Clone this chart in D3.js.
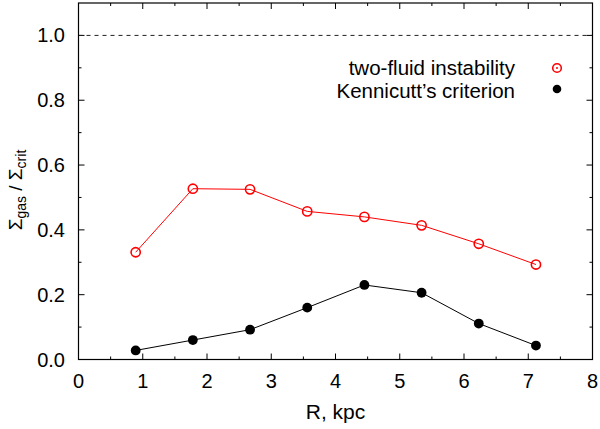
<!DOCTYPE html>
<html><head><meta charset="utf-8">
<script src="https://cdn.jsdelivr.net/npm/d3@7"></script>
<style>
html,body{margin:0;padding:0;background:#fff;}
text{font-family:"Liberation Sans",Arial,Helvetica,sans-serif;fill:#000;}
</style></head>
<body>
<svg id="chart" width="600" height="429"></svg>
<script>
const radius = [0.89, 1.78, 2.67, 3.56, 4.45, 5.34, 6.23, 7.12];
const twoFluid = [0.331, 0.527, 0.525, 0.457, 0.440, 0.414, 0.357, 0.293];
const kennicutt = [0.028, 0.060, 0.092, 0.160, 0.230, 0.206, 0.111, 0.043];
const xTicks = [0, 1, 2, 3, 4, 5, 6, 7, 8];
const yTicks = [0.0, 0.2, 0.4, 0.6, 0.8, 1.0];
const seriesNames = ["two-fluid instability", "Kennicutt\u2019s criterion"];
const threshold = 1.0;

const svg = d3.select("#chart");
const L = 78.5, R = 592.5, T = 3, B = 359.5;
const x = d3.scaleLinear().domain([0, 8]).range([L, R]);
const y = d3.scaleLinear().domain([0, 1.1]).range([B, T]);

const g = svg.append("g");

// ticks (inward, all four sides)
const xMinor = d3.range(0.5, 8, 1);
const yMinor = d3.range(0.1, 1.1, 0.2);
const tk = g.append("g").attr("stroke", "#000").attr("stroke-width", 1);
xTicks.forEach(v => {
  tk.append("line").attr("x1", x(v)).attr("x2", x(v)).attr("y1", B).attr("y2", B - 6);
  tk.append("line").attr("x1", x(v)).attr("x2", x(v)).attr("y1", T).attr("y2", T + 6);
});
xMinor.forEach(v => {
  tk.append("line").attr("x1", x(v)).attr("x2", x(v)).attr("y1", B).attr("y2", B - 3);
  tk.append("line").attr("x1", x(v)).attr("x2", x(v)).attr("y1", T).attr("y2", T + 3);
});
yTicks.forEach(v => {
  tk.append("line").attr("y1", y(v)).attr("y2", y(v)).attr("x1", L).attr("x2", L + 6);
  tk.append("line").attr("y1", y(v)).attr("y2", y(v)).attr("x1", R).attr("x2", R - 6);
});
yMinor.forEach(v => {
  tk.append("line").attr("y1", y(v)).attr("y2", y(v)).attr("x1", L).attr("x2", L + 3);
  tk.append("line").attr("y1", y(v)).attr("y2", y(v)).attr("x1", R).attr("x2", R - 3);
});

// tick labels
g.selectAll(".xl").data(xTicks).enter().append("text")
  .attr("x", d => x(d)).attr("y", 388).attr("text-anchor", "middle")
  .attr("font-size", 20).text(d => d3.format("d")(d));
g.selectAll(".yl").data(yTicks).enter().append("text")
  .attr("x", 65).attr("y", d => y(d) + 7).attr("text-anchor", "end")
  .attr("font-size", 20).text(d => d3.format(".1f")(d));

// axis titles
g.append("text").attr("x", (L + R) / 2).attr("y", 419).attr("text-anchor", "middle")
  .attr("font-size", 21).text("R, kpc");
const yl = g.append("text").attr("transform", "translate(22,190) rotate(-90)")
  .attr("text-anchor", "middle").attr("font-size", 19);
yl.append("tspan").text("\u03A3");
yl.append("tspan").attr("font-size", 14).attr("dy", 4).text("gas");
yl.append("tspan").attr("dy", -4).text(" / \u03A3");
yl.append("tspan").attr("font-size", 14).attr("dy", 4).text("crit");

// threshold dashed line
g.append("line").attr("x1", L).attr("x2", R).attr("y1", y(threshold)).attr("y2", y(threshold))
  .attr("stroke", "#222").attr("stroke-width", 1).attr("stroke-dasharray", "4,4");

// lines
const line = d3.line().x((d, i) => x(radius[i])).y(d => y(d));
g.append("path").datum(twoFluid).attr("d", line).attr("fill", "none")
  .attr("stroke", "#ff0000").attr("stroke-width", 1);
g.append("path").datum(kennicutt).attr("d", line).attr("fill", "none")
  .attr("stroke", "#000").attr("stroke-width", 1);

// markers
g.selectAll(".rc").data(twoFluid).enter().append("circle")
  .attr("cx", (d, i) => x(radius[i])).attr("cy", d => y(d)).attr("r", 4.6)
  .attr("fill", "none").attr("stroke", "#ff0000").attr("stroke-width", 1.6);
g.selectAll(".bc").data(kennicutt).enter().append("circle")
  .attr("cx", (d, i) => x(radius[i])).attr("cy", d => y(d)).attr("r", 4.9)
  .attr("fill", "#000");

// legend
g.append("text").attr("x", 515).attr("y", 74.5).attr("text-anchor", "end")
  .attr("font-size", 20.5).text(seriesNames[0]);
g.append("text").attr("x", 515).attr("y", 97.5).attr("text-anchor", "end")
  .attr("font-size", 20.5).text(seriesNames[1]);
g.append("circle").attr("cx", 557).attr("cy", 68).attr("r", 4.3)
  .attr("fill", "none").attr("stroke", "#ff0000").attr("stroke-width", 1.6);
g.append("circle").attr("cx", 557).attr("cy", 68).attr("r", 1).attr("fill", "#ff0000");
g.append("circle").attr("cx", 557).attr("cy", 89).attr("r", 4.3).attr("fill", "#000");

// frame
g.append("rect").attr("x", L).attr("y", T).attr("width", R - L).attr("height", B - T)
  .attr("fill", "none").attr("stroke", "#000").attr("stroke-width", 1.2);
</script>
</body></html>
